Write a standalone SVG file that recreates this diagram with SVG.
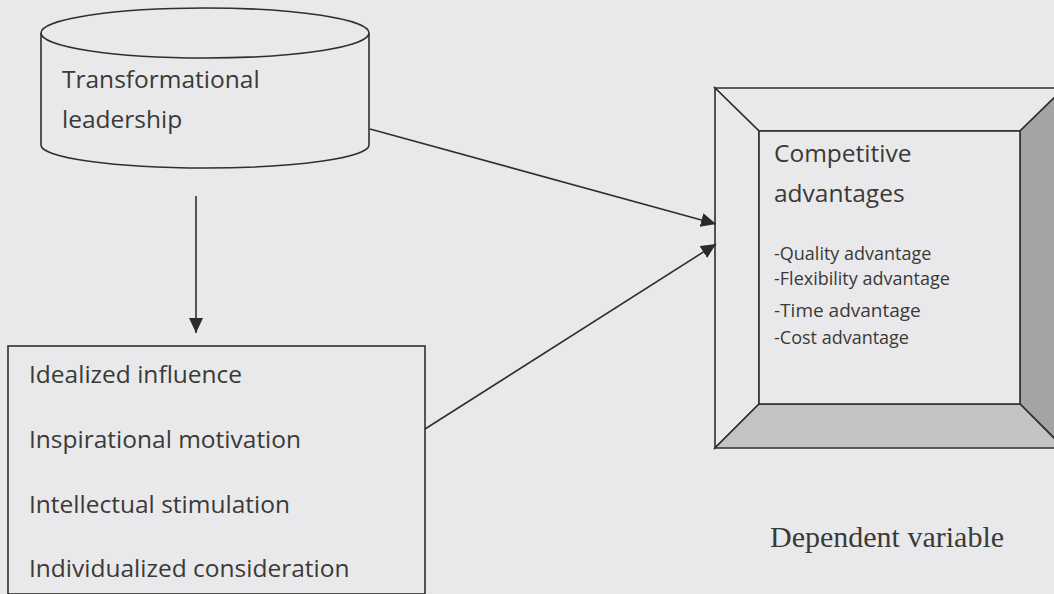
<svg xmlns="http://www.w3.org/2000/svg" width="1054" height="594" viewBox="0 0 1054 594">
<style>
.bg{fill:#e9e9ec}
.ln{fill:none;stroke:#2f2f2c;stroke-width:1.6}
.sh{stroke:#2f2f2c;stroke-width:1.6;stroke-linejoin:miter}
.t{font-family:"Open Sans","Noto Sans",sans-serif;fill:#3a3a36}
.m{font-size:24.5px}
.s{font-size:18px}
.d{font-family:"Liberation Serif","Times New Roman",serif;font-size:30px;fill:#3a3a36}
</style>
<defs>
<marker id="ah" markerUnits="userSpaceOnUse" markerWidth="16" markerHeight="14" refX="15" refY="7" orient="auto">
<path d="M0,0 L15,7 L0,14 Z" fill="#2a2a27"/>
</marker>
</defs>
<rect class="bg" x="0" y="0" width="1054" height="594"/>

<g id="transformational-leadership">
<path class="ln" d="M41,33 L41,145 A164,23 0 0 0 369,145 L369,33" style="fill:#e9e9ec"/>
<ellipse class="ln" cx="205" cy="33" rx="164" ry="25" style="fill:#e9e9ec"/>
<text class="t m" x="62" y="88">Transformational</text>
<text class="t m" x="62" y="128">leadership</text>
</g>

<g id="dimensions">
<rect class="ln" x="8" y="346" width="417" height="248" style="fill:#e9e9ec"/>
<text class="t m" x="29" y="383">Idealized influence</text>
<text class="t m" x="29" y="448">Inspirational motivation</text>
<text class="t m" x="29" y="513">Intellectual stimulation</text>
<text class="t m" x="29" y="577">Individualized consideration</text>
</g>

<g id="competitive-advantages">
<polygon class="sh" points="715,88 1064,88 1020,131 759,131" fill="#e9e9ec"/>
<polygon class="sh" points="715,88 759,131 759,404 715,448" fill="#e9e9ec"/>
<polygon class="sh" points="1064,88 1064,448 1020,404 1020,131" fill="#a4a4a4"/>
<polygon class="sh" points="715,448 1064,448 1020,404 759,404" fill="#c3c3c3"/>
<rect class="ln" x="759" y="131" width="261" height="273" style="fill:#e9e9ec"/>
<text class="t m" x="774" y="162">Competitive</text>
<text class="t m" x="774" y="202">advantages</text>
<text class="t s" x="774" y="260">-Quality advantage</text>
<text class="t s" x="774" y="285">-Flexibility advantage</text>
<text class="t s" x="774" y="317" style="font-size:19px">-Time advantage</text>
<text class="t s" x="774" y="344">-Cost advantage</text>
</g>

<g id="label-dependent">
<text class="d" x="770" y="547">Dependent variable</text>
</g>

<g id="connectors">
<line class="ln" x1="196" y1="196" x2="196" y2="333" marker-end="url(#ah)"/>
<line class="ln" x1="370" y1="129" x2="716" y2="224" marker-end="url(#ah)"/>
<line class="ln" x1="425" y1="429" x2="716" y2="244" marker-end="url(#ah)"/>
</g>
</svg>
